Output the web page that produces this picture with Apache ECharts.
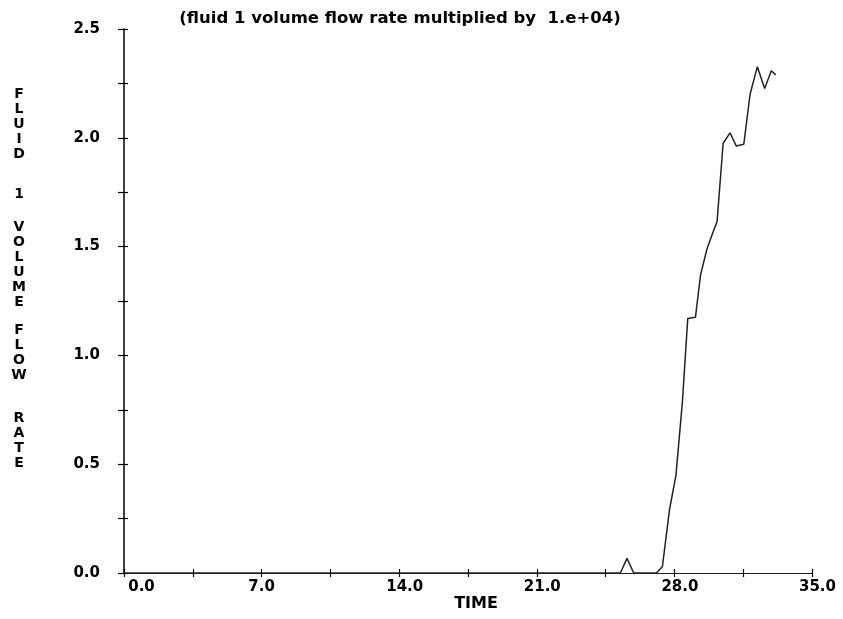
<!DOCTYPE html>
<html>
<head>
<meta charset="utf-8">
<script src="https://cdn.jsdelivr.net/npm/echarts/dist/echarts.min.js"></script>
<style>html,body{margin:0;padding:0;background:#fff}#c{width:843px;height:619px}</style>
</head>
<body>
<div id="c"></div>
<script>
// Data
const time = [0, 25.25, 25.59, 25.93, 27.09, 27.39, 27.75, 28.08, 28.41, 28.68, 29.07, 29.33, 29.66, 29.94, 30.17, 30.48, 30.83, 31.15, 31.53, 31.85, 32.22, 32.59, 32.93, 33.15];
const flow = [0, 0, 0.067, 0, 0, 0.03, 0.29, 0.45, 0.79, 1.17, 1.175, 1.37, 1.49, 1.56, 1.615, 1.975, 2.023, 1.962, 1.97, 2.2, 2.327, 2.227, 2.308, 2.289];
const xTickLabels = ['0.0', '7.0', '14.0', '21.0', '28.0', '35.0'];
const yTickLabels = ['0.0', '0.5', '1.0', '1.5', '2.0', '2.5'];
const titleText = '(fluid 1 volume flow rate multiplied by  1.e+04)';
const xName = 'TIME';
const yNameWords = ['FLUID', '1', 'VOLUME', 'FLOW', 'RATE'];

const FONT = '"DejaVu Sans", sans-serif';
const chart = echarts.init(document.getElementById('c'), null, {renderer: 'canvas'});
const near = (a, b) => Math.abs(a - b) < 1e-6;

const wordTops = [94, 194, 227, 330, 418];
const LH = 15;
const graphics = yNameWords.map((w, i) => ({
  type: 'text', x: 19, y: wordTops[i] - LH / 2,
  style: {text: w.split('').join('\n'), font: 'bold 14px ' + FONT, fill: '#000',
          textAlign: 'center', textVerticalAlign: 'top', lineHeight: LH}
}));
graphics.push({type: 'text', x: 476, y: 604,
  style: {text: xName, font: 'bold 16px ' + FONT, fill: '#000', textAlign: 'center', textVerticalAlign: 'middle'}});
graphics.push({type: 'text', x: 400, y: 19,
  style: {text: titleText, font: 'bold 16.5px ' + FONT, fill: '#000', textAlign: 'center', textVerticalAlign: 'middle'}});

const richBase = {fontFamily: FONT, fontWeight: 'bold', fontSize: 15, color: '#000'};
chart.setOption({
  animation: false,
  backgroundColor: '#fff',
  grid: {left: 124, right: 31, top: 29, bottom: 46},
  graphic: graphics,
  xAxis: [{
    type: 'value', min: 0, max: 35, interval: 3.5,
    axisLine: {show: true, onZero: false, lineStyle: {color: '#222', width: 1.2}},
    axisTick: {show: true, length: 4, lineStyle: {color: '#000', width: 1.2}},
    splitLine: {show: false},
    axisLabel: {
      show: true, interval: 0, margin: 7, showMinLabel: true, showMaxLabel: true,
      formatter: function (v) {
        for (let i = 0; i < xTickLabels.length; i++) {
          if (near(v, parseFloat(xTickLabels[i]))) {
            const s = xTickLabels[i];
            if (near(v, 0)) return '{z|' + s + '}';
            if (s.length === 3) return '{s|' + s + '}';
            return '{f|' + s + '}';
          }
        }
        return '';
      },
      rich: {
        z: Object.assign({padding: [0, 0, 0, 35]}, richBase),
        s: Object.assign({}, richBase),
        f: Object.assign({padding: [0, 0, 0, 11]}, richBase)
      }
    }
  }, {
    type: 'value', min: 0, max: 35, interval: 3.5, position: 'bottom',
    axisLine: {show: false}, axisLabel: {show: false}, splitLine: {show: false},
    axisTick: {show: true, inside: true, length: 4, lineStyle: {color: '#000', width: 1.2}}
  }],
  yAxis: [{
    type: 'value', min: 0, max: 2.5, interval: 0.25,
    axisLine: {show: true, onZero: false, lineStyle: {color: '#000', width: 1.5}},
    axisTick: {show: true, length: 6, lineStyle: {color: '#000', width: 1.2}},
    splitLine: {show: false},
    axisLabel: {
      show: true, margin: 24, fontFamily: FONT, fontWeight: 'bold', fontSize: 15, color: '#000',
      formatter: function (v) {
        for (let i = 0; i < yTickLabels.length; i++) {
          if (near(v, parseFloat(yTickLabels[i]))) return yTickLabels[i];
        }
        return '';
      }
    }
  }, {
    type: 'value', min: 0, max: 2.5, interval: 0.25, position: 'left',
    axisLine: {show: false}, axisLabel: {show: false}, splitLine: {show: false},
    axisTick: {show: true, inside: true, length: 4, lineStyle: {color: '#000', width: 1.2}}
  }],
  series: [{
    type: 'line', xAxisIndex: 0, yAxisIndex: 0,
    data: time.map((t, i) => [t, flow[i]]),
    showSymbol: false, symbol: 'none',
    lineStyle: {color: '#222', width: 1.5},
    z: 1
  }]
});
</script>
</body>
</html>
